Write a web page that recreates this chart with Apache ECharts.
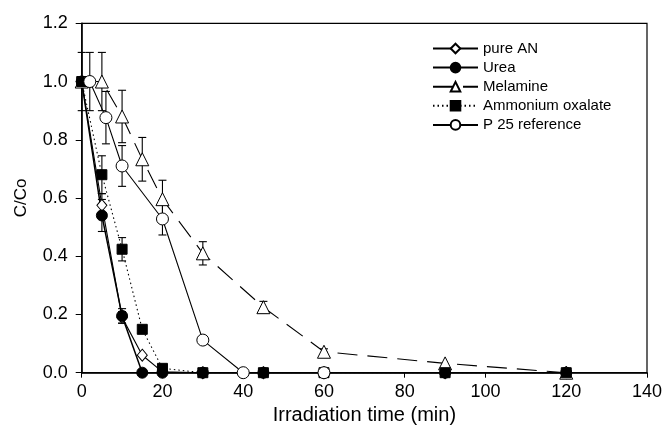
<!DOCTYPE html>
<html>
<head>
<meta charset="utf-8">
<script src="https://cdn.jsdelivr.net/npm/echarts@6/dist/echarts.min.js"></script>
<style>html,body{margin:0;padding:0;background:#fff;}#c{width:667px;height:435px;}</style>
</head>
<body>
<div id="c"></div>
<script>
// ---- data ----
const xTicks = [0, 20, 40, 60, 80, 100, 120, 140];
const yTicks = [0.0, 0.2, 0.4, 0.6, 0.8, 1.0, 1.2];

const pureAN_x = [0, 5, 10, 15, 20, 30, 45, 60, 90, 120];
const pureAN_y = [1.0, 0.575, 0.19, 0.06, 0.003, 0, 0, 0, 0, 0];
const pureAN_err = [0, 0.04, 0.02, 0, 0, 0, 0, 0, 0, 0];

const urea_x = [0, 5, 10, 15, 20, 30, 45, 60, 90, 120];
const urea_y = [1.0, 0.54, 0.195, 0, 0, 0, 0, 0, 0, 0];
const urea_err = [0.1, 0.055, 0.025, 0, 0, 0, 0, 0, 0, 0];

const melamine_x = [0, 5, 10, 15, 20, 30, 45, 60, 90, 120];
const melamine_y = [1.0, 1.0, 0.88, 0.733, 0.596, 0.41, 0.225, 0.072, 0.032, 0];
const melamine_err = [0, 0.1, 0.09, 0.075, 0.065, 0.04, 0.02, 0.01, 0, 0];

const amox_x = [0, 5, 10, 15, 20, 30, 45, 60, 90, 120];
const amox_y = [1.0, 0.68, 0.424, 0.149, 0.015, 0, 0, 0, 0, 0];
const amox_err = [0, 0.065, 0.04, 0, 0, 0, 0, 0, 0, 0];

const p25_x = [2, 6, 10, 20, 30, 40, 60];
const p25_y = [1.0, 0.876, 0.71, 0.528, 0.112, 0, 0];
const p25_err = [0.1, 0.09, 0.07, 0.055, 0, 0, 0];

const names = ['pure AN', 'Urea', 'Melamine', 'Ammonium oxalate', 'P 25 reference'];

// ---- build ----
function pairs(xs, ys) { return xs.map((x, i) => [x, ys[i]]); }
const errData = [];
[[pureAN_x, pureAN_y, pureAN_err], [urea_x, urea_y, urea_err], [melamine_x, melamine_y, melamine_err],
 [amox_x, amox_y, amox_err], [p25_x, p25_y, p25_err]].forEach(([xs, ys, es]) => {
  xs.forEach((x, i) => { if (es[i] > 0) errData.push([x, ys[i] - es[i], ys[i] + es[i]]); });
});

const FONT = 'Liberation Sans, Arial, sans-serif';
const base = { type: 'line', color: '#000', symbolKeepAspect: true, z: 3 };

const chart = echarts.init(document.getElementById('c'), null, { renderer: 'canvas' });
chart.setOption({
  animation: false,
  backgroundColor: '#fff',
  textStyle: { fontFamily: FONT },
  grid: { left: 81.7, right: 20, top: 23.3, bottom: 62.3, show: true, borderColor: '#000', borderWidth: 1.2 },
  legend: {
    orient: 'vertical', left: 427, top: 36,
    itemWidth: 45, itemHeight: 12, itemGap: 4.1,
    textStyle: { fontFamily: FONT, fontSize: 15, color: '#000' },
    data: names
  },
  xAxis: {
    type: 'value', min: 0, max: 140, interval: 20,
    name: 'Irradiation time (min)', nameLocation: 'middle', nameGap: 33,
    nameTextStyle: { fontFamily: FONT, fontSize: 20, color: '#000' },
    axisLine: { lineStyle: { color: '#000', width: 1.5 } },
    axisTick: { show: true, inside: false, length: 5, lineStyle: { color: '#000' } },
    axisLabel: { fontFamily: FONT, fontSize: 18, color: '#000', margin: 10 },
    splitLine: { show: false }
  },
  yAxis: {
    type: 'value', min: 0, max: 1.2, interval: 0.2,
    name: 'C/Co', nameLocation: 'middle', nameGap: 52,
    nameTextStyle: { fontFamily: FONT, fontSize: 17, color: '#000' },
    axisLine: { show: true, lineStyle: { color: '#000', width: 1.5 } },
    axisTick: { show: true, inside: false, length: 6, lineStyle: { color: '#000' } },
    axisLabel: { fontFamily: FONT, fontSize: 18, color: '#000', margin: 14,
      formatter: v => v.toFixed(1) },
    splitLine: { show: false }
  },
  series: [
    {
      type: 'custom', name: 'err', z: 2, silent: true,
      data: errData,
      renderItem: function (params, api) {
        const x = api.value(0);
        const lo = api.coord([x, api.value(1)]);
        const hi = api.coord([x, api.value(2)]);
        const w = 4;
        const st = { stroke: '#000', lineWidth: 1.1 };
        return { type: 'group', children: [
          { type: 'line', shape: { x1: lo[0], y1: lo[1], x2: hi[0], y2: hi[1] }, style: st },
          { type: 'line', shape: { x1: lo[0] - w, y1: lo[1], x2: lo[0] + w, y2: lo[1] }, style: st },
          { type: 'line', shape: { x1: hi[0] - w, y1: hi[1], x2: hi[0] + w, y2: hi[1] }, style: st }
        ] };
      }
    },
    Object.assign({}, base, {
      name: names[0], data: pairs(pureAN_x, pureAN_y),
      symbol: 'diamond', symbolSize: [10, 12],
      itemStyle: { color: '#fff', borderColor: '#000', borderWidth: 1 },
      lineStyle: { color: '#000', width: 1.1, type: 'solid' }
    }),
    Object.assign({}, base, {
      name: names[1], data: pairs(urea_x, urea_y),
      symbol: 'circle', symbolSize: 11,
      itemStyle: { color: '#000', borderColor: '#000', borderWidth: 1 },
      lineStyle: { color: '#000', width: 1.5, type: 'solid' }
    }),
    Object.assign({}, base, {
      name: names[2], data: pairs(melamine_x, melamine_y),
      symbol: 'triangle', symbolSize: [13, 13],
      itemStyle: { color: '#fff', borderColor: '#000', borderWidth: 1 },
      lineStyle: { color: '#000', width: 1.1, type: [20, 10] }
    }),
    Object.assign({}, base, {
      name: names[3], data: pairs(amox_x, amox_y),
      symbol: 'rect', symbolSize: 10,
      itemStyle: { color: '#000', borderColor: '#000', borderWidth: 1 },
      lineStyle: { color: '#000', width: 1.1, type: [1.5, 3] }
    }),
    Object.assign({}, base, {
      name: names[4], data: pairs(p25_x, p25_y),
      symbol: 'circle', symbolSize: 12,
      itemStyle: { color: '#fff', borderColor: '#000', borderWidth: 1 },
      lineStyle: { color: '#000', width: 1.1, type: 'solid' }
    })
  ]
});
</script>
</body>
</html>
